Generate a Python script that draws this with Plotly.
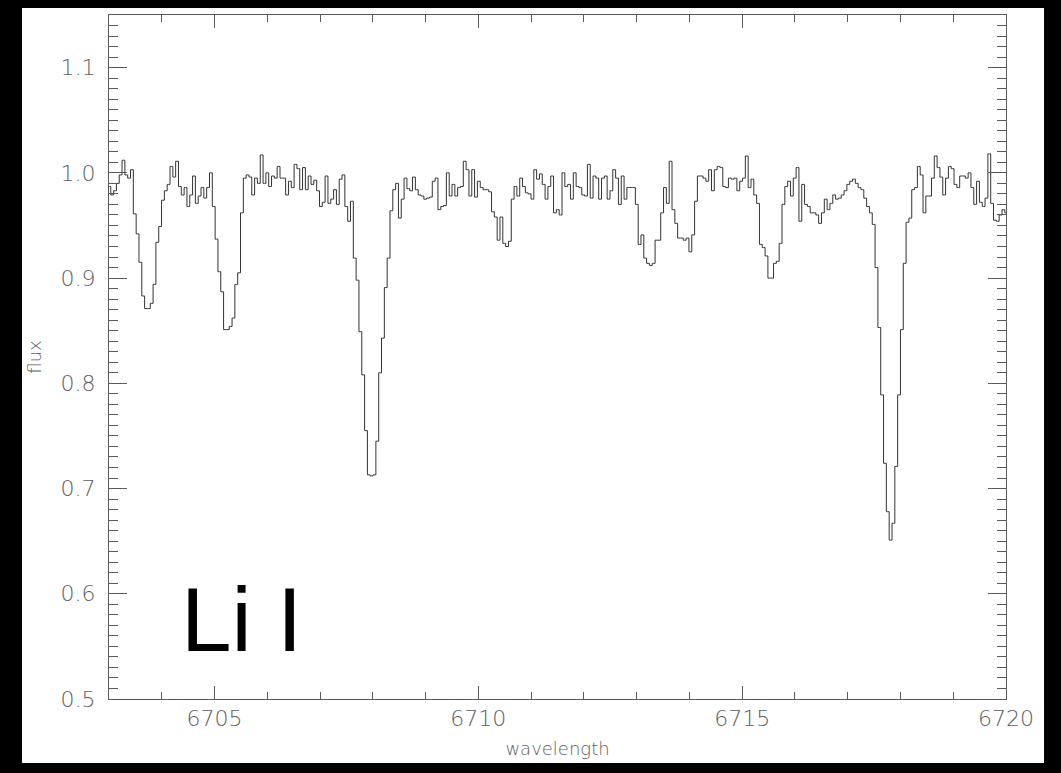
import plotly.graph_objects as go

# ---------------- data ----------------
WL_START = 6703.007      # centre of first spectral pixel (Angstrom)
WL_STEP = 0.05345        # pixel width (Angstrom)

flux = [
    # 6703.0 - 6704.6  (first line ~6703.7)
    0.987, 0.979, 0.983, 0.990, 0.998, 1.012, 0.998, 0.995, 1.003, 0.961,
    0.942, 0.915, 0.883, 0.871, 0.871, 0.876, 0.894, 0.934, 0.949, 0.974,
    0.983, 0.989, 1.006, 0.996, 1.011, 0.987, 0.979, 0.986, 0.968, 0.979,
    0.997, 0.971, 0.978, 0.986, 0.976, 0.986, 1.000,
    # line ~6705.2
    0.968, 0.937, 0.906, 0.887, 0.851, 0.851, 0.854, 0.862, 0.894, 0.905,
    0.962, 0.995,
    # continuum 6705.6 - 6707.6
    0.998, 0.996, 0.979, 0.995, 0.990, 1.017, 0.990, 1.000, 0.987, 0.997,
    0.995, 1.006, 0.995, 0.995, 0.979, 0.992, 0.986, 1.008, 1.004, 0.984,
    1.005, 0.984, 0.997, 0.989, 0.993, 0.983, 0.968, 0.972, 0.997, 0.971,
    0.975, 0.984, 0.970, 0.994, 0.998, 0.968, 0.954, 0.973,
    # Li I line ~6707.9
    0.919, 0.898, 0.849, 0.808, 0.755, 0.713, 0.712, 0.713, 0.745, 0.810,
    0.843, 0.891, 0.919, 0.964, 0.984,
    # continuum 6708.4 - 6713.0
    0.990, 0.957, 0.975, 0.995, 0.985, 0.983, 0.996, 0.984, 0.979, 0.978,
    0.975, 0.976, 0.977, 0.992, 0.995, 0.965, 0.968, 0.969, 1.000, 0.978,
    0.989, 0.978, 0.986, 0.987, 1.011, 1.003, 0.978, 1.003, 0.977, 0.992,
    0.986, 0.984, 0.984, 0.982, 0.963, 0.958, 0.936, 0.958, 0.933, 0.930,
    0.935, 0.975, 0.987, 0.978, 0.995, 0.987, 0.981, 0.980, 0.975, 1.003,
    0.994, 0.999, 0.989, 0.975, 0.987, 0.997, 0.962, 0.965, 0.960, 1.000,
    0.987, 0.989, 0.975, 1.000, 0.987, 0.986, 0.979, 0.978, 1.008, 0.976,
    0.997, 0.995, 0.975, 0.995, 0.997, 0.975, 0.983, 1.003, 0.995, 0.970,
    0.997, 0.975, 0.986, 0.986, 0.986, 0.970,
    # lines ~6713.2 and ~6714.1
    0.932, 0.941, 0.919, 0.914, 0.912, 0.914, 0.936, 0.936, 0.962, 0.986,
    0.971, 1.011, 0.965, 0.952, 0.938, 0.938, 0.936, 0.938, 0.925, 0.941,
    0.973,
    # continuum 6714.3 - 6715.2
    0.997, 0.997, 0.995, 0.992, 1.003, 0.983, 1.003, 1.006, 1.005, 0.987,
    0.986, 0.995, 0.994, 0.995, 0.983, 0.992, 0.995, 1.016, 0.986, 0.994,
    0.979, 0.971,
    # line ~6715.5
    0.932, 0.929, 0.921, 0.900, 0.900, 0.914, 0.916, 0.933, 0.970, 0.987,
    # continuum 6715.9 - 6717.4
    0.992, 0.978, 0.995, 1.005, 0.954, 0.989, 0.970, 0.968, 0.962, 0.962,
    0.960, 0.952, 0.962, 0.975, 0.965, 0.971, 0.979, 0.975, 0.976, 0.979,
    0.983, 0.989, 0.992, 0.994, 0.990, 0.986, 0.984, 0.976, 0.968, 0.962,
    0.951,
    # line ~6717.7
    0.910, 0.853, 0.789, 0.724, 0.678, 0.651, 0.667, 0.721, 0.789, 0.851,
    0.914, 0.953, 0.957,
    # continuum 6718.2 - 6720
    0.984, 0.986, 1.006, 0.998, 0.962, 0.978, 0.978, 0.995, 1.016, 1.005,
    0.996, 0.979, 0.995, 1.006, 1.004, 0.989, 0.986, 0.997, 0.997, 0.995,
    1.000, 0.986, 0.970, 0.992, 0.972, 0.968, 0.976, 1.018, 0.971, 0.955,
    0.954, 0.960, 0.965, 0.962,
]
wavelength = [round(WL_START + WL_STEP * i, 5) for i in range(len(flux))]

X_RANGE = [6703, 6720]
Y_RANGE = [0.5, 1.15]
X_TICKS = [6705, 6710, 6715, 6720]
Y_TICKS = [0.5, 0.6, 0.7, 0.8, 0.9, 1.0, 1.1]
X_TITLE = "wavelength"
Y_TITLE = "flux"
LABEL_TEXT = "Li I"
LABEL_POS = (6704.33, 0.5752)

# ---------------- figure ----------------
AXIS_COL = "#5a5a5a"
TEXT_COL = "#5e5e5e"
TICK_FONT = dict(size=22, color=TEXT_COL, family="DejaVu Sans", weight=300)
TITLE_FONT = dict(size=18, color=TEXT_COL, family="DejaVu Sans", weight=300)

fig = go.Figure()
fig.add_trace(go.Scatter(
    x=wavelength, y=flux, mode="lines",
    line=dict(shape="hvh", color="#333333", width=1),
    hoverinfo="x+y", showlegend=False,
))

# white page on black background (as in the reference)
fig.add_shape(type="rect", xref="paper", yref="paper",
              x0=-0.097, x1=1.0424, y0=-0.0936, y1=1.0102,
              fillcolor="white", line_width=0, layer="below")

fig.add_annotation(
    x=LABEL_POS[0], y=LABEL_POS[1], xref="x", yref="y",
    text=LABEL_TEXT, showarrow=False, xanchor="left", yanchor="middle",
    font=dict(family="Liberation Sans, Arial, sans-serif", size=91, color="black"),
)

fig.update_layout(
    width=1061, height=773,
    margin=dict(l=109, r=55, t=15, b=74, autoexpand=False),
    paper_bgcolor="black", plot_bgcolor="white",
    font=dict(family="DejaVu Sans", color=TEXT_COL),
    showlegend=False,
)

fig.update_xaxes(
    range=X_RANGE, autorange=False,
    tickmode="array", tickvals=X_TICKS, ticktext=[str(v) for v in X_TICKS],
    ticks="inside", ticklen=13, tickwidth=1, tickcolor=AXIS_COL,
    minor=dict(dtick=1, tick0=6703, ticks="inside", ticklen=7, tickwidth=1, tickcolor=AXIS_COL),
    showline=True, linecolor=AXIS_COL, linewidth=1, mirror="ticks",
    showgrid=False, zeroline=False,
    tickfont=TICK_FONT,
    ticklabelstandoff=0,
    title=dict(text=X_TITLE, font=TITLE_FONT, standoff=11),
    automargin=False,
)
fig.update_yaxes(
    range=Y_RANGE, autorange=False,
    tickmode="array", tickvals=Y_TICKS, ticktext=[f"{v:.1f}" for v in Y_TICKS],
    ticks="inside", ticklen=18, tickwidth=1, tickcolor=AXIS_COL,
    minor=dict(dtick=0.01, tick0=0.5, ticks="inside", ticklen=9, tickwidth=1, tickcolor=AXIS_COL),
    showline=True, linecolor=AXIS_COL, linewidth=1, mirror="ticks",
    showgrid=False, zeroline=False,
    tickfont=TICK_FONT,
    ticklabelstandoff=8,
    title=dict(text=Y_TITLE, font=TITLE_FONT, standoff=14),
    automargin=False,
)

fig.write_html("out.html")
